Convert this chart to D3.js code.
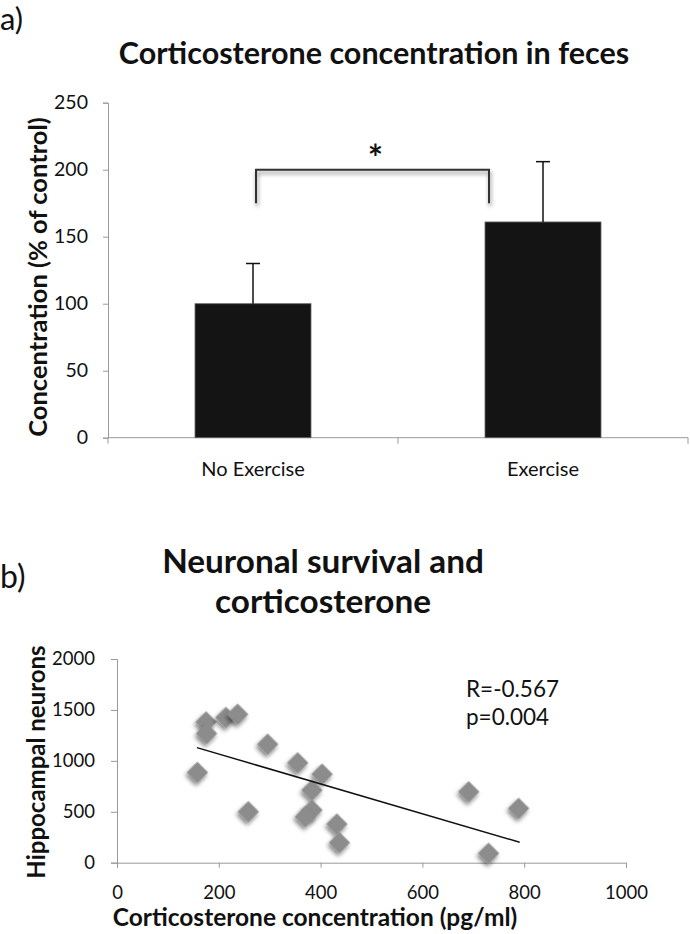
<!DOCTYPE html>
<html><head><meta charset="utf-8">
<script src="https://cdn.jsdelivr.net/npm/d3@7"></script>
<style>body{margin:0;background:#fff}svg{display:block}text{font-family:Lato,"Open Sans",sans-serif}</style>
</head><body>
<script>
// Panel a data
const groups = ["No Exercise", "Exercise"];
const means = [100, 161];
const errors = [30, 45];
const barTicks = [0, 50, 100, 150, 200, 250];
const bracketRange = [175, 200];

// Panel b data
const cortX = [175, 176, 214, 237, 158, 258, 296, 355, 403, 383, 383, 370, 432, 437, 691, 789, 730];
const neuronsY = [1382, 1268, 1425, 1457, 886, 500, 1163, 980, 869, 712, 516, 451, 379, 196, 696, 533, 92];
const trendX = [157, 791];
const trendY = [1130, 201];
const scatXTicks = [0, 200, 400, 600, 800, 1000];
const scatYTicks = [0, 500, 1000, 1500, 2000];

const W = 690, H = 934;
const svg = d3.select("body").append("svg").attr("width", W).attr("height", H);
const defs = svg.append("defs");
const f1 = defs.append("filter").attr("id","shadow").attr("x","-50%").attr("y","-50%").attr("width","200%").attr("height","200%");
f1.append("feGaussianBlur").attr("in","SourceAlpha").attr("stdDeviation",2.2).attr("result","b");
f1.append("feOffset").attr("in","b").attr("dx",1).attr("dy",3).attr("result","o");
f1.append("feComponentTransfer").attr("in","o").attr("result","o2").append("feFuncA").attr("type","linear").attr("slope",0.5);
const m1 = f1.append("feMerge"); m1.append("feMergeNode").attr("in","o2"); m1.append("feMergeNode").attr("in","SourceGraphic");

const axisColor = "#999";
const fmt = d3.format("d");

// ---------- Panel a ----------
svg.append("text").attr("x", 0).attr("y", 30).attr("font-size", 31).attr("fill", "#111").text("a)");
svg.append("text").attr("x", 374).attr("y", 64).attr("text-anchor","middle").attr("font-size", 30.5).attr("font-weight","bold").attr("fill","#111").text("Corticosterone concentration in feces");

const ax = d3.scaleBand().domain(groups).range([108, 688]).paddingInner(0.6).paddingOuter(0.3);
const ay = d3.scaleLinear().domain([0, 250]).range([437.7, 102.7]);

const gA = svg.append("g");
const yAx = gA.append("g").attr("transform","translate(108,0)").call(d3.axisLeft(ay).tickValues(barTicks).tickFormat(fmt).tickSize(5).tickPadding(15));
yAx.select(".domain").attr("stroke", axisColor);
yAx.selectAll(".tick line").attr("stroke", axisColor);
yAx.selectAll(".tick text").attr("font-size", 19.5).attr("fill","#111").attr("font-family","Lato");
const xAxG = gA.append("g").attr("transform","translate(0,437.7)");
xAxG.append("line").attr("x1",108).attr("x2",688).attr("stroke",axisColor);
const bounds = [108, (ax("No Exercise")+ax.bandwidth()+ax("Exercise"))/2, 688];
xAxG.selectAll(".tk").data(bounds).join("line").attr("x1",d=>d).attr("x2",d=>d).attr("y1",0).attr("y2",6).attr("stroke",axisColor);
xAxG.selectAll(".lbl").data(groups).join("text").attr("x",d=>ax(d)+ax.bandwidth()/2).attr("y",38).attr("text-anchor","middle").attr("font-size",20).attr("fill","#111").text(d=>d);

gA.selectAll(".bar").data(groups).join("rect")
  .attr("x", d=>ax(d)).attr("width", ax.bandwidth())
  .attr("y", (d,i)=>ay(means[i])).attr("height",(d,i)=>ay(0)-ay(means[i]))
  .attr("fill","#141414").attr("stroke","#666").attr("stroke-width",0.8);
groups.forEach((g,i)=>{
  const cx = ax(g)+ax.bandwidth()/2;
  gA.append("line").attr("x1",cx).attr("x2",cx).attr("y1",ay(means[i])).attr("y2",ay(means[i]+errors[i])).attr("stroke","#111").attr("stroke-width",1.5);
  gA.append("line").attr("x1",cx-7).attr("x2",cx+7).attr("y1",ay(means[i]+errors[i])).attr("y2",ay(means[i]+errors[i])).attr("stroke","#111").attr("stroke-width",1.5);
});
const bxL = ax("No Exercise")+ax.bandwidth()/2+3;
const bxR = ax("Exercise")+4;
gA.append("path")
  .attr("d", `M${bxL},${ay(bracketRange[0])}V${ay(bracketRange[1])}H${bxR}V${ay(bracketRange[0])}`)
  .attr("fill","none").attr("stroke","#333").attr("stroke-width",2).attr("filter","url(#shadow)");
gA.append("text").attr("x",(bxL+bxR)/2+3).attr("y",ay(bracketRange[1])+1).attr("text-anchor","middle").attr("font-size",36).attr("font-weight","bold").attr("fill","#111").text("*");

svg.append("text").attr("transform","translate(47,277) rotate(-90)").attr("text-anchor","middle").attr("font-size",25.5).attr("font-weight","bold").attr("fill","#111").text("Concentration (% of control)");

// ---------- Panel b ----------
svg.append("text").attr("x", 0).attr("y", 588).attr("font-size", 32).attr("fill", "#111").text("b)");
svg.append("text").attr("x", 323).attr("y", 573).attr("text-anchor","middle").attr("font-size", 33.3).attr("font-weight","bold").attr("fill","#111").text("Neuronal survival and");
svg.append("text").attr("x", 323).attr("y", 613).attr("text-anchor","middle").attr("font-size", 33.3).attr("font-weight","bold").attr("fill","#111").text("corticosterone");

const sx = d3.scaleLinear().domain([0, 1000]).range([117, 626]);
const sy = d3.scaleLinear().domain([0, 2000]).range([862.7, 659]);

const gB = svg.append("g");
const syAx = gB.append("g").attr("transform","translate(117,0)").call(d3.axisLeft(sy).tickValues(scatYTicks).tickFormat(fmt).tickSize(6).tickPadding(16));
syAx.select(".domain").attr("stroke",axisColor);
syAx.selectAll(".tick line").attr("stroke",axisColor);
syAx.selectAll(".tick text").attr("font-size",18.5).attr("fill","#111").attr("font-family","Lato");
const sxAx = gB.append("g").attr("transform","translate(0,862.7)").call(d3.axisBottom(sx).tickValues(scatXTicks).tickFormat(fmt).tickSize(5).tickPadding(18));
sxAx.select(".domain").attr("stroke",axisColor);
sxAx.selectAll(".tick line").attr("stroke",axisColor);
sxAx.selectAll(".tick text").attr("font-size",18.5).attr("fill","#111").attr("font-family","Lato");

const diamond = d3.symbol().type(d3.symbolSquare).size(230);
gB.selectAll(".pt").data(cortX).join("path")
  .attr("d", diamond)
  .attr("transform",(d,i)=>`translate(${sx(d)},${sy(neuronsY[i])}) rotate(45)`)
  .attr("fill","#8c8c8c").attr("filter","url(#shadow)");

gB.append("line").attr("x1",sx(trendX[0])).attr("y1",sy(trendY[0])).attr("x2",sx(trendX[1])).attr("y2",sy(trendY[1])).attr("stroke","#111").attr("stroke-width",1.5);

gB.append("text").attr("x",466).attr("y",697).attr("font-size",22.5).attr("fill","#111").text("R=-0.567");
gB.append("text").attr("x",466).attr("y",725).attr("font-size",22.5).attr("fill","#111").text("p=0.004");

svg.append("text").attr("transform","translate(45,762) rotate(-90)").attr("text-anchor","middle").attr("font-size",24).attr("font-weight","bold").attr("fill","#111").text("Hippocampal neurons");
svg.append("text").attr("x",315).attr("y",926).attr("text-anchor","middle").attr("font-size",24.5).attr("font-weight","bold").attr("fill","#111").text("Corticosterone concentration (pg/ml)");
</script>
</body></html>
